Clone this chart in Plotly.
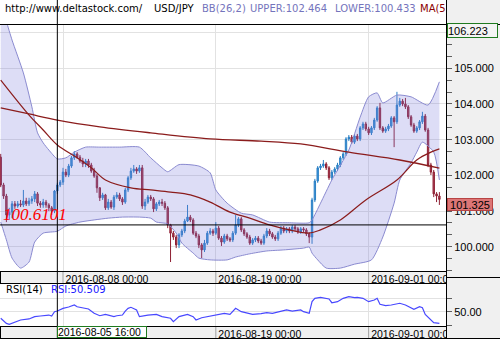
import plotly.graph_objects as go
import pandas as pd

# ---------------- data ----------------
opens = [102.51,101.73,101.42,100.89,100.97,101.20,101.14,101.20,101.17,101.28,
         101.20,101.28,101.34,101.48,101.22,101.17,101.25,101.17,101.09,101.00,
         101.56,101.73,101.81,102.09,102.01,102.26,102.49,102.60,102.51,102.40,
         102.32,102.40,102.29,102.12,101.98,101.65,101.37,101.45,101.09,101.25,
         101.11,101.39,101.45,101.34,101.25,101.59,101.93,102.12,102.18,102.12,
         102.21,101.14,101.25,101.39,101.34,101.06,101.20,101.25,101.22,101.09,
         100.61,100.38,100.27,100.05,100.33,100.44,100.72,100.83,100.75,100.38,
         100.30,100.05,99.91,100.10,100.38,100.44,100.38,100.52,100.24,100.13,
         100.30,100.22,100.19,100.38,100.61,100.78,100.47,100.36,100.27,100.10,
         100.19,100.24,100.16,100.10,100.30,100.44,100.36,100.27,100.22,100.38,
         100.52,100.44,100.50,100.44,100.55,100.50,100.41,100.50,100.47,100.36,
         100.27,101.31,101.84,102.21,102.26,102.32,102.21,101.93,102.09,102.18,
         102.29,102.49,102.60,103.02,103.07,102.93,103.10,103.02,103.33,103.44,
         103.30,103.19,103.33,103.55,103.89,103.33,103.24,103.30,103.38,103.61,
         103.50,103.97,104.08,104.00,103.92,103.64,103.41,103.24,103.33,103.50,
         103.66,103.27,102.29,102.09,101.48,101.42]
closes = [101.73,101.42,100.89,100.97,101.20,101.14,101.20,101.17,101.28,101.20,
          101.28,101.34,101.48,101.22,101.17,101.25,101.17,101.09,101.00,101.56,
          101.73,101.81,102.09,102.01,102.26,102.49,102.60,102.51,102.40,102.32,
          102.40,102.29,102.12,101.98,101.65,101.37,101.45,101.09,101.25,101.11,
          101.39,101.45,101.34,101.25,101.59,101.93,102.12,102.18,102.12,102.21,
          101.14,101.25,101.39,101.34,101.06,101.20,101.25,101.22,101.09,100.61,
          100.38,100.27,100.05,100.33,100.44,100.72,100.83,100.75,100.38,100.30,
          100.05,99.91,100.10,100.38,100.44,100.38,100.52,100.24,100.13,100.30,
          100.22,100.19,100.38,100.61,100.78,100.47,100.36,100.27,100.10,100.19,
          100.24,100.16,100.10,100.30,100.44,100.36,100.27,100.22,100.38,100.52,
          100.44,100.50,100.44,100.55,100.50,100.41,100.50,100.47,100.36,100.27,
          101.31,101.84,102.21,102.26,102.32,102.21,101.93,102.09,102.18,102.29,
          102.49,102.60,103.02,103.07,102.93,103.10,103.02,103.33,103.44,103.30,
          103.19,103.33,103.55,103.89,103.33,103.24,103.30,103.38,103.61,103.50,
          103.97,104.08,104.00,103.92,103.64,103.41,103.24,103.33,103.50,103.66,
          103.27,102.29,102.09,101.48,101.42,101.325]
highs = [102.60,101.79,101.48,101.09,101.28,101.28,101.28,101.31,101.59,101.37,
         101.37,101.42,101.56,101.53,101.28,101.34,101.31,101.22,101.14,101.59,
         101.79,101.87,102.21,102.18,102.32,102.54,102.68,102.65,102.57,102.49,
         102.46,102.46,102.35,102.21,102.04,101.67,101.51,101.48,101.34,101.31,
         101.45,101.53,101.51,101.39,101.65,101.98,102.21,102.29,102.23,102.29,
         102.29,101.34,101.45,101.45,101.39,101.25,101.31,101.34,101.28,101.14,
         100.64,100.44,100.33,100.38,100.50,100.78,101.17,100.89,100.80,100.44,
         100.36,100.10,100.19,100.44,100.52,100.50,100.69,100.58,100.30,100.36,
         100.36,100.27,100.44,100.89,100.83,100.83,100.52,100.41,100.33,100.24,
         100.30,100.30,100.22,100.36,100.52,100.50,100.41,100.33,100.44,100.58,
         100.58,100.55,100.55,100.61,100.61,100.55,100.55,100.55,100.52,100.41,
         101.37,101.90,102.26,102.32,102.43,102.37,102.26,102.15,102.23,102.35,
         102.54,102.65,103.07,103.13,103.13,103.16,103.16,103.38,103.50,103.50,
         103.36,103.38,103.61,103.94,104.03,103.38,103.36,103.44,103.66,103.66,
         104.34,104.17,104.14,104.17,103.97,103.69,103.47,103.38,103.55,103.78,
         103.72,103.33,102.35,102.15,101.53,101.53]
lows = [101.67,101.34,100.69,100.75,100.80,101.06,101.09,101.11,101.11,101.14,
        101.14,101.20,101.25,101.14,101.09,101.09,101.09,101.00,100.89,100.94,
        101.48,101.67,101.73,101.95,101.95,102.21,102.43,102.46,102.35,102.23,
        102.23,102.21,102.07,101.93,101.51,101.28,101.31,101.03,101.03,101.06,
        101.03,101.34,101.28,101.17,101.20,101.53,101.87,102.07,102.04,102.07,
        101.06,101.03,101.20,101.28,100.97,101.00,101.14,101.14,101.03,100.52,
        99.57,100.19,99.96,99.96,100.27,100.38,100.69,100.69,100.33,100.24,
        99.96,99.68,99.85,100.05,100.33,100.30,100.33,100.19,100.02,100.08,
        100.16,100.13,100.13,100.33,100.55,100.41,100.30,100.22,100.05,100.05,
        100.13,100.10,100.05,100.05,100.24,100.30,100.22,100.16,100.16,100.33,
        100.38,100.38,100.38,100.38,100.44,100.36,100.36,100.41,100.30,100.10,
        100.08,101.25,101.79,102.15,102.21,102.15,101.87,101.87,102.04,102.12,
        102.23,102.43,102.54,102.96,102.88,102.88,102.96,102.96,103.27,103.24,
        103.13,103.13,103.27,103.50,103.27,103.19,103.19,103.24,103.33,102.79,
        103.44,103.92,103.94,103.86,103.58,103.36,103.19,103.19,103.27,103.44,
        103.22,102.23,102.01,101.39,101.25,101.17]

# Bollinger band (26,2) read at candle numbers
bb_upper_pos = [0, 2, 4, 8, 11, 13, 15, 17, 20, 23, 26, 30, 35, 42, 49, 53, 57, 59, 63, 70,
                74, 76, 80, 85, 89, 95, 102, 109, 110, 113, 117, 123, 127, 130, 133, 135,
                140, 145, 151, 155]
bb_upper = [106.83, 106.31, 105.79, 104.87, 103.92, 103.19, 102.91, 102.71, 102.46, 102.49,
            102.65, 102.79, 102.79, 102.79, 102.79, 102.49, 102.21, 102.10, 102.30, 102.26,
            102.07, 101.59, 101.22, 100.94, 100.89, 100.69, 100.67, 100.67, 100.75, 101.22,
            101.87, 102.71, 103.63, 104.20, 104.31, 104.03, 104.25, 104.20, 103.97, 104.62]
bb_lower_pos = [0, 2, 4, 7, 10, 12, 15, 20, 23, 28, 33, 38, 43, 49, 53, 55, 59, 62, 64, 68,
                70, 74, 80, 83, 88, 94, 100, 107, 109, 110, 112, 115, 120, 125, 131, 135,
                139, 141, 145, 147, 149, 153, 155]
bb_lower = [100.69, 100.19, 99.68, 99.40, 99.57, 100.13, 100.38, 100.433, 100.58, 100.69,
            100.75, 100.80, 100.83, 100.83, 100.80, 100.69, 100.64, 100.38, 100.10, 99.82,
            99.68, 99.63, 99.63, 99.71, 99.80, 99.88, 99.91, 99.96, 99.99, 99.82,
            99.63, 99.40, 99.40, 99.51, 99.63, 100.27, 101.22, 101.87, 102.35, 102.65,
            102.93, 102.65, 101.87]

# moving averages
ma_long_pos = [0, 10, 20, 35, 53, 74, 92, 106, 123, 141, 155]
ma_long = [103.89, 103.72, 103.55, 103.36, 103.19, 103.02, 102.96, 102.88, 102.65, 102.43, 102.20]
ma_short_pos = [0, 10, 15, 20, 27, 32, 37, 46, 53, 60, 67, 74, 81, 88, 95, 102, 109, 113,
                120, 129, 140, 147, 152, 155]
ma_short = [104.67, 103.69, 103.27, 102.85, 102.49, 102.21, 101.87, 101.65, 101.59, 101.53,
            101.45, 101.25, 100.97, 100.80, 100.61, 100.47, 100.38, 100.47, 100.75, 101.31,
            101.87, 102.43, 102.65, 102.74]

# RSI(14)
rsi_pos = [0, 2, 3, 5, 7, 10, 12, 14, 17, 18, 19, 20, 22, 24, 26, 27, 29, 31, 33, 35, 37, 38,
           40, 41, 43, 44, 45, 46, 47, 48, 49, 52, 55, 57, 60, 61, 63, 66, 68, 69, 71, 73,
           75, 76, 79, 81, 82, 83, 85, 87, 89, 92, 94, 96, 99, 101, 103, 106, 107, 109, 110,
           111, 113, 116, 117, 119, 121, 123, 125, 126, 128, 130, 132, 133, 134, 136, 138,
           139, 141, 143, 145, 146, 148, 149, 150, 152, 153, 155]
rsi_vals = [45.1, 41.3, 40.6, 42.5, 43.8, 44.6, 46.3, 46.8, 47.5, 46.8, 50.0, 50.509, 52.5,
            53.5, 55.0, 53.7, 53.0, 52.0, 48.8, 47.0, 48.0, 47.5, 46.3, 47.0, 47.5, 50.5,
            52.5, 53.3, 52.5, 51.3, 46.3, 47.5, 48.0, 46.3, 45.1, 42.5, 46.3, 48.0, 46.3,
            43.8, 45.5, 46.3, 47.5, 48.0, 48.8, 48.0, 50.5, 52.5, 50.0, 48.8, 48.0, 48.5,
            49.3, 48.8, 50.0, 51.3, 50.5, 51.3, 50.0, 48.8, 57.5, 60.0, 60.7, 59.5, 56.7,
            57.5, 60.0, 61.2, 60.5, 60.7, 60.0, 57.5, 58.7, 60.0, 55.5, 54.5, 55.0, 55.5,
            56.3, 55.0, 52.5, 51.8, 53.7, 53.0, 48.0, 43.8, 41.8, 41.3]

tick_labels = ["2016-08-08 00:00", "2016-08-19 00:00", "2016-09-01 00:00"]
price_ticks = [100, 101, 102, 103, 104, 105, 106]
crosshair_time = "2016-08-05 16:00"
crosshair_price = 100.6101
last_price = 101.325
axis_top_price = 106.223
header_upper = "102.464"
header_lower = "100.433"
header_rsi = "50.509"

# 4-hour candle timestamps (weekdays only)
all_times = pd.date_range("2016-08-02 08:00", "2016-09-09 00:00", freq="4h")
times = [t.strftime("%Y-%m-%d %H:%M") for t in all_times if t.weekday() < 5][:len(closes)]
xpos = list(range(len(times)))
tickvals = [times.index(t) for t in tick_labels]
cross_idx = times.index(crosshair_time)

# ---------------- layout geometry ----------------
W, H, PW = 500, 339, 446
def px(x): return x / PW
def py(y): return 1 - y / H

fig = go.Figure()

BB_LINE = "#8a8ad0"
fig.add_trace(go.Scatter(x=bb_lower_pos, y=bb_lower, mode="lines",
                         line=dict(color=BB_LINE, width=1, shape="spline", smoothing=0.6),
                         hoverinfo="skip"))
fig.add_trace(go.Scatter(x=bb_upper_pos, y=bb_upper, mode="lines", fill="tonexty",
                         fillcolor="rgba(120,120,220,0.25)",
                         line=dict(color=BB_LINE, width=1, shape="spline", smoothing=0.6),
                         hoverinfo="skip"))
fig.add_trace(go.Candlestick(
    x=xpos, open=opens, high=highs, low=lows, close=closes,
    increasing=dict(line=dict(color="#2a7fc4", width=1), fillcolor="#3f9be0"),
    decreasing=dict(line=dict(color="#8e1f33", width=1), fillcolor="#b5485c"),
    whiskerwidth=0, hoverinfo="skip"))
fig.add_trace(go.Scatter(x=ma_long_pos, y=ma_long, mode="lines",
                         line=dict(color="#8b1c1c", width=1.3, shape="spline"), hoverinfo="skip"))
fig.add_trace(go.Scatter(x=ma_short_pos, y=ma_short, mode="lines",
                         line=dict(color="#8b1c1c", width=1.2, shape="spline"), hoverinfo="skip"))
fig.add_trace(go.Scatter(x=rsi_pos, y=rsi_vals, mode="lines", xaxis="x2", yaxis="y2",
                         line=dict(color="#4848ff", width=1.2), hoverinfo="skip"))

# the bottom band's first label sits under the crosshair time box
bottom_ticktext = ["" if abs(tv - cross_idx) < 16 else lab for tv, lab in zip(tickvals, tick_labels)]
# the axis-top label box hides the 106.000 label
price_ticktext = ["" if p > axis_top_price - 0.3 else f"{p:.3f}" for p in price_ticks]

xr = [-0.74 / 2.83, (PW - 0.74) / 2.83]
xcommon = dict(range=xr, tickmode="array", tickvals=tickvals,
               showgrid=True, gridcolor="#e2e2e2", gridwidth=1, ticks="", zeroline=False,
               showline=False, ticklabelshift=44,
               tickfont=dict(family="Liberation Sans", size=10.5, color="black"))
ycommon = dict(side="right", ticks="outside", ticklen=5, tickcolor="#606060",
               showgrid=True, gridcolor="#e2e2e2", zeroline=False, showline=False,
               automargin=False, tickfont=dict(family="Liberation Sans", size=11, color="black"))

fig.update_layout(
    width=W, height=H, autosize=False,
    margin=dict(l=0, r=W - PW, t=0, b=0, pad=0),
    paper_bgcolor="#f0f0f0", plot_bgcolor="white", showlegend=False,
    xaxis=dict(domain=[0, 1], anchor="y", rangeslider=dict(visible=False),
               ticktext=tick_labels, **xcommon),
    yaxis=dict(domain=[py(271), py(24)], range=[106.914 - 0.028027 * 271, 106.914 - 0.028027 * 24],
               anchor="x", tickmode="array", tickvals=price_ticks, ticktext=price_ticktext,
               minor=dict(tick0=0, dtick=1 / 3, ticks="outside", ticklen=5, tickcolor="#606060",
                          showgrid=False), **ycommon),
    xaxis2=dict(domain=[0, 1], anchor="y2", matches="x", ticktext=bottom_ticktext, **xcommon),
    yaxis2=dict(domain=[py(326), py(283)], range=[39.33, 71.42], anchor="x2",
                tickmode="array", tickvals=[40, 50, 60], ticktext=["", "50.00", ""], **ycommon),
)

shapes = []
# white header strip
shapes.append(dict(type="rect", xref="paper", yref="paper", x0=0, x1=1, y0=py(24), y1=1,
                   fillcolor="white", line=dict(width=0), layer="below"))
# date-band tick lines
for tv in tickvals:
    for (a, b) in [(271, 283), (326, 338)]:
        shapes.append(dict(type="line", xref="x", yref="paper", x0=tv, x1=tv, y0=py(a), y1=py(b),
                           line=dict(color="#a0a0a0", width=1), layer="below"))
# hide date-label overflow in right column
for (a, b) in [(271, 283), (326, 339)]:
    shapes.append(dict(type="rect", xref="paper", yref="paper", x0=px(446.5), x1=px(W),
                       y0=py(b), y1=py(a), fillcolor="#f0f0f0", line=dict(width=0), layer="above"))
# frame lines
def hline(y, x0, x1, color="black"):
    shapes.append(dict(type="line", xref="paper", yref="paper", x0=px(x0), x1=px(x1),
                       y0=py(y), y1=py(y), line=dict(color=color, width=1), layer="above"))
hline(24.5, 0, W)
hline(271.5, 0, PW)
hline(283.5, 0, PW)
hline(326.5, 0, PW)
hline(338.5, 0, W)
hline(277.5, PW, W)
shapes.append(dict(type="line", xref="paper", yref="paper", x0=px(446.5), x1=px(446.5), y0=0, y1=1,
                   line=dict(color="black", width=1), layer="above"))
for (a, b) in [(271, 283), (326, 338)]:
    shapes.append(dict(type="line", xref="paper", yref="paper", x0=px(0.5), x1=px(0.5),
                       y0=py(a), y1=py(b), line=dict(color="black", width=1), layer="above"))
# crosshair
shapes.append(dict(type="line", xref="paper", yref="y", x0=0, x1=1, y0=crosshair_price,
                   y1=crosshair_price, line=dict(color="black", width=1), layer="above"))
shapes.append(dict(type="line", xref="x", yref="paper", x0=cross_idx, x1=cross_idx, y0=0, y1=1,
                   line=dict(color="black", width=1), layer="above"))
fig.update_layout(shapes=shapes)

ann = []
def text(t, x, y, color="black", size=10, family="DejaVu Sans", **kw):
    d = dict(text=t, xref="paper", yref="paper", x=px(x - 2), y=py(y), xanchor="left",
             yanchor="middle", showarrow=False,
             font=dict(family=family, size=size, color=color))
    d.update(kw)
    ann.append(d)

BBC = "#7474bc"
text("http://www.deltastock.com/", 5, 8)
text("USD/JPY", 154, 8)
text("BB(26,2)", 202, 8, color=BBC)
text("UPPER:" + header_upper, 250, 8, color=BBC)
text("LOWER:" + header_lower, 335, 8, color=BBC)
text("MA(5", 420, 8, color="#8b0000")
# top-right gray block (clips header text)
ann.append(dict(text=" ", xref="paper", yref="paper", x=px(447), y=py(0), xanchor="left",
                yanchor="top", showarrow=False, width=53, height=23.5, bgcolor="#f0f0f0",
                borderpad=0, borderwidth=0))
# axis-top value box
ann.append(dict(text=f"{axis_top_price:.3f}", xref="paper", yref="paper", x=px(446.5), y=py(30.5),
                xanchor="left", yanchor="middle", showarrow=False, width=49, height=13,
                align="left", bgcolor="#f4f4f4", bordercolor="#1f7a1f", borderwidth=1, borderpad=0,
                font=dict(family="Liberation Sans", size=11, color="black")))
# last price box
ann.append(dict(text=f"{last_price:.3f}", xref="paper", yref="paper", x=px(446.5), y=py(204.5),
                xanchor="left", yanchor="middle", showarrow=False, width=44, height=11,
                align="center", bgcolor="#dc7676", bordercolor="#b84444", borderwidth=1, borderpad=0,
                font=dict(family="Liberation Sans", size=11, color="black")))
# crosshair date box
ann.append(dict(text=crosshair_time, xref="x", yref="paper", x=cross_idx, y=py(332),
                xanchor="left", yanchor="middle", showarrow=False, width=88, height=10,
                align="left", bgcolor="white", bordercolor="#1f7a1f", borderwidth=1, borderpad=0,
                font=dict(family="Liberation Sans", size=10.5, color="black")))
# crosshair price
ann.append(dict(text=f"{crosshair_price:.4f}", xref="paper", yref="y", x=px(1), y=crosshair_price,
                xanchor="left", yanchor="bottom", showarrow=False, yshift=-1,
                font=dict(family="Liberation Serif", size=17, color="#ff0000", style="italic")))
text("RSI(14)", 6, 289.5)
text("RSI:" + header_rsi, 51, 289.5, color="#2020ff")
fig.update_layout(annotations=ann)

fig.write_html("out.html")
